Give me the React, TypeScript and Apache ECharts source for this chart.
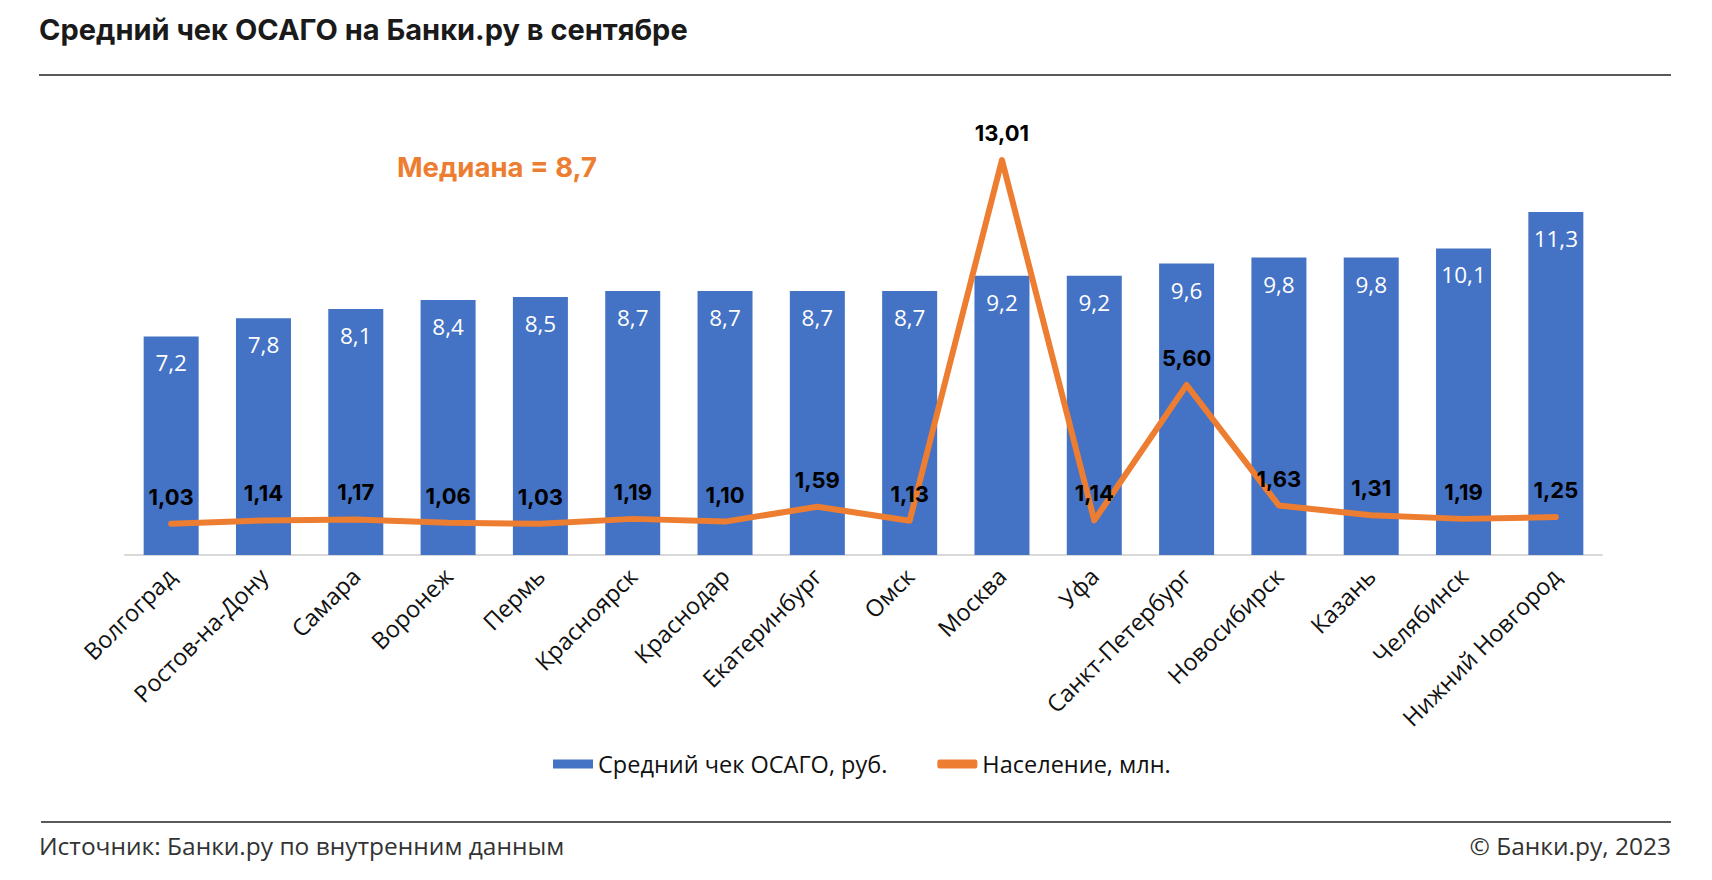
import React, { useEffect, useRef } from "react";
import * as echarts from "echarts";

const titleText = "Средний чек ОСАГО на Банки.ру в сентябре";
const medianText = "Медиана = 8,7";
const sourceText = "Источник: Банки.ру по внутренним данным";
const copyrightText = "© Банки.ру, 2023";

const cities = [
  "Волгоград",
  "Ростов-на-Дону",
  "Самара",
  "Воронеж",
  "Пермь",
  "Красноярск",
  "Краснодар",
  "Екатеринбург",
  "Омск",
  "Москва",
  "Уфа",
  "Санкт-Петербург",
  "Новосибирск",
  "Казань",
  "Челябинск",
  "Нижний Новгород",
];

const avgCheck = [7.2, 7.8, 8.1, 8.4, 8.5, 8.7, 8.7, 8.7, 8.7, 9.2, 9.2, 9.6, 9.8, 9.8, 10.1, 11.3];
const population = [1.03, 1.14, 1.17, 1.06, 1.03, 1.19, 1.1, 1.59, 1.13, 13.01, 1.14, 5.6, 1.63, 1.31, 1.19, 1.25];

const barName = "Средний чек ОСАГО, руб.";
const lineName = "Население, млн.";

const FONT = "'Open Sans', 'Noto Sans', sans-serif";
const BOLD_FONT = "Inter, 'Noto Sans', sans-serif";

const fmt = (v: number, d: number) => v.toFixed(d).replace(".", ",");

export default function App() {
  const ref = useRef<HTMLDivElement>(null);

  useEffect(() => {
    if (!ref.current) return;
    const chart = echarts.init(ref.current, null, { renderer: "svg" });
    chart.setOption({
      animation: false,
      backgroundColor: "#ffffff",
      textStyle: { fontFamily: FONT },
      grid: { left: 125, right: 110, top: 130, bottom: 325, containLabel: false },
      xAxis: {
        type: "category",
        data: cities,
        axisLine: { lineStyle: { color: "#d9d9d9", width: 2 } },
        axisTick: { show: false },
        axisLabel: {
          rotate: 45,
          interval: 0,
          margin: 17,
          color: "#111111",
          fontSize: 23.5,
          fontFamily: FONT,
        },
      },
      yAxis: {
        type: "value",
        min: 0,
        max: 14,
        show: false,
        splitLine: { show: false },
      },
      legend: {
        left: 548,
        top: 747,
        itemGap: 50,
        itemWidth: 40,
        itemHeight: 9,
        textStyle: { fontSize: 23.5, color: "#111111", fontFamily: FONT },
        data: [
          { name: barName, icon: "rect" },
          { name: lineName, icon: "roundRect", itemStyle: { color: "#ED7D31" } },
        ],
      },
      series: [
        {
          name: barName,
          type: "bar",
          data: avgCheck,
          barWidth: 55,
          itemStyle: { color: "#4472C4" },
          label: {
            show: true,
            position: "insideTop",
            distance: 15,
            color: "#ffffff",
            fontSize: 22.5,
            fontFamily: FONT,
            formatter: (p: any) => fmt(p.value, 1),
          },
        },
        {
          name: lineName,
          type: "line",
          data: population,
          symbol: "circle",
          symbolSize: 2,
          showSymbol: true,
          smooth: false,
          lineStyle: { color: "#ED7D31", width: 6, cap: "round", join: "round" },
          itemStyle: { color: "#ED7D31" },
          z: 3,
          label: {
            show: true,
            position: "top",
            distance: 15,
            color: "#000000",
            fontSize: 22,
            fontWeight: "bold",
            fontFamily: BOLD_FONT,
            formatter: (p: any) => fmt(p.value, 2),
          },
          labelLayout: { hideOverlap: false },
        },
      ],
      graphic: [
        {
          type: "text",
          left: 39,
          top: 15,
          style: {
            text: titleText,
            fontSize: 29,
            fontWeight: "bold",
            fontFamily: BOLD_FONT,
            fill: "#1a1a1a",
          },
        },
        {
          type: "line",
          shape: { x1: 39, y1: 75, x2: 1671, y2: 75 },
          style: { stroke: "#222222", lineWidth: 1.5 },
        },
        {
          type: "text",
          left: 397,
          top: 153,
          style: {
            text: medianText,
            fontSize: 27.5,
            fontWeight: "bold",
            fontFamily: BOLD_FONT,
            fill: "#ED7D31",
          },
        },
        {
          type: "line",
          shape: { x1: 41, y1: 822, x2: 1671, y2: 822 },
          style: { stroke: "#222222", lineWidth: 1.5 },
        },
        {
          type: "text",
          left: 39,
          top: 833,
          style: {
            text: sourceText,
            fontSize: 24.5,
            fontFamily: FONT,
            fill: "#333333",
          },
        },
        {
          type: "text",
          right: 41,
          top: 833,
          style: {
            text: copyrightText,
            fontSize: 24.5,
            fontFamily: FONT,
            fill: "#333333",
          },
        },
      ],
    });
    return () => chart.dispose();
  }, []);

  return (
    <div
      ref={ref}
      style={{ position: "fixed", left: 0, top: 0, width: 1712, height: 880 }}
    />
  );
}
